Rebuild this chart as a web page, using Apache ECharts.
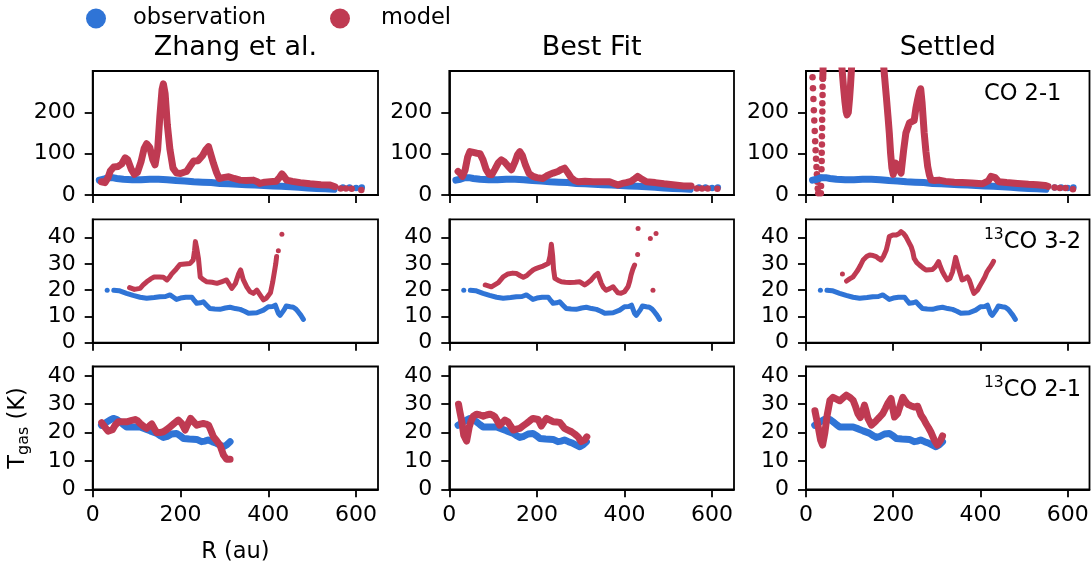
<!DOCTYPE html>
<html>
<head>
<meta charset="utf-8">
<script src="https://cdn.jsdelivr.net/npm/echarts@6/dist/echarts.min.js"></script>
<style>html,body{margin:0;padding:0;background:#fff;}#chart{width:1091px;height:563px;}</style>
</head>
<body>
<div id="chart"></div>
<script>
// ---------- data ----------
const columnTitles = ['Zhang et al.', 'Best Fit', 'Settled'];
const lineNames = ['CO 2-1', '13CO 3-2', '13CO 2-1'];
const xTicks = [0, 200, 400, 600];
const yTicksCO = [0, 100, 200];
const yTicks13 = [0, 10, 20, 30, 40];

// CO 2-1
const obsCO21 = [[15,36],[25,38],[35,42],[45,42],[55,40],[70,38],[90,37],[110,37],[130,38],[150,38],[170,37],[190,35],[210,34],[230,32],[250,31],[270,30],[290,28],[310,27],[330,26],[350,25],[370,24],[390,23],[410,22],[430,21],[450,20],[470,19],[490,17],[510,16],[530,15],[550,14]];
const obsCO21Dots = [[570,18],[585,18],[600,17],[613,18]];
const zhangCO21 = [[20,32],[28,30],[35,42],[40,58],[48,68],[58,69],[66,75],[74,90],[80,85],[88,62],[95,50],[102,55],[110,80],[117,112],[123,124],[130,115],[137,85],[142,73],[148,110],[153,190],[158,255],[161,269],[165,245],[170,170],[176,110],[183,65],[191,53],[200,52],[208,55],[214,57],[222,70],[230,82],[240,83],[250,95],[258,110],[264,117],[270,95],[275,77],[282,55],[288,40],[297,42],[310,44],[322,40],[336,36],[350,35],[366,36],[375,32],[381,28],[392,31],[404,32],[418,33],[426,43],[431,51],[436,45],[442,36],[455,33],[473,30],[495,27],[520,25],[541,24],[552,20]];
const zhangCO21Dots = [[565,16],[577,16],[590,15],[612,12]];
const bestCO21 = [[20,57],[25,52],[30,45],[36,60],[42,92],[47,105],[55,103],[63,101],[70,100],[77,85],[84,62],[91,50],[97,49],[104,62],[112,78],[119,85],[126,80],[134,70],[142,61],[150,80],[156,98],[161,105],[167,95],[174,72],[182,52],[191,45],[200,42],[214,40],[225,48],[237,53],[248,57],[256,62],[263,65],[270,55],[278,42],[286,35],[294,32],[310,33],[328,32],[345,32],[366,32],[376,28],[385,24],[395,28],[404,30],[415,33],[424,40],[430,45],[437,40],[450,32],[470,30],[490,27],[515,24],[535,22],[552,22]];
const bestCO21Dots = [[565,16],[577,16],[590,16],[612,15]];
const settledCO21 = [[38.5,282],[40,340],[80,340],[83,300],[86,262],[89,228],[92,202],[94,194],[97,200],[100,235],[102,265],[104,300],[106,340],[176,340],[179,300],[184,240],[188,190],[191,150],[194,100],[197,65],[200,50],[206,77],[212,65],[218,53],[224,110],[229,150],[237,174],[243,178],[248,180],[252,210],[256,231],[260,250],[263,257],[266,225],[271,150],[275,105],[279,69],[283,48],[287,36],[295,35],[305,36],[320,33],[340,31],[358,30],[380,29],[404,27],[418,34],[424,45],[428,49],[434,42],[442,32],[460,30],[485,28],[510,26],[530,25],[548,23],[555,21]];
const settledCO21Dots = [[15,285],[16,258],[17,232],[18,205],[19,180],[20,155],[21,130],[22,108],[23,88],[24,68],[25,50],[26,32],[27,16],[28,4],[34,4],[34.5,22],[35,42],[35.5,62],[36,82],[36,102],[36.5,122],[36.5,142],[37,162],[37,182],[37.5,202],[37.5,222],[38,242],[38,262],[38.5,282],[570,18],[582,17],[595,17],[612,14]];

// 13CO 3-2
const obs13CO32 = [[48,20],[60,19.8],[77,18.8],[92,18],[108,17.3],[123,16.9],[140,17.2],[153,17.5],[166,17.6],[176,18.2],[184,17.3],[191,16.5],[200,17],[212,17.3],[226,17.3],[232,16],[237,15],[245,15.2],[252,15.6],[260,14.2],[267,13],[278,12.8],[290,12.7],[302,13.2],[313,13.5],[325,13],[336,12.7],[346,12],[355,11.2],[365,11.3],[374,11.4],[389,12.4],[400,13.7],[410,13.8],[416,14.3],[420,12.5],[423,11.2],[427,10.4],[431,10.5],[436,12.5],[441,14],[450,13.7],[457,13.5],[463,12.8],[468,11.8],[474,10.5],[480,8.9]];
const obs13CO32Dots = [[33,20]];
const zhang13CO32 = [[84,21],[95,20.3],[108,20.7],[115,22],[123,23.2],[132,24.3],[140,25],[152,25],[161,24.9],[169,23.9],[175,25],[180,26.2],[190,28],[199,29.8],[210,30],[222,30.2],[229,31.5],[232,35],[234,38.5],[237,36],[241,32],[245,25],[252,24],[260,23.2],[272,23],[283,22.6],[295,23.3],[305,23.9],[312,22],[317,20.7],[325,22.5],[332,26],[337,27.7],[343,24],[351,21.3],[358,19.5],[366,18.8],[374,20],[382,18],[389,16.3],[396,17],[400,17.5],[405,19],[410,23],[414,27],[417,30],[419,32.8]];
const zhang13CO32Dots = [[423,35],[431,41.3]];
const best13CO32 = [[82,22],[96,21.3],[112,22.9],[123,25.1],[134,26.2],[145,26.5],[153,26.4],[162,25.5],[169,24.9],[177,25.6],[184,26.7],[192,27.8],[199,28.3],[207,28.8],[214,29.2],[221,29.8],[226,30.2],[230,33],[233,37.5],[236,33],[238,28],[241,24.5],[248,23.8],[256,23.2],[265,23],[275,22.9],[287,23],[298,23.2],[309,22],[316,22.8],[324,23.9],[332,25.5],[339,26.4],[343,24.5],[347,22.6],[352,21],[358,20],[366,20.6],[374,21.3],[380,20],[385,19],[392,18.8],[400,19.4],[404,20],[408,21.3],[412,23.5],[415,25.8],[419,28],[423,29.6]];
const best13CO32Dots = [[430,33.6],[431,43.5],[459,39.7],[465,20],[472,41.6]];
const settled13CO32 = [[93,23.5],[100,24.3],[108,25.1],[114,26.5],[119,27.7],[125,29.5],[131,31.5],[139,32.8],[146,33.4],[154,33.2],[161,32.8],[167,32],[172,31.5],[178,33],[184,35.3],[188,38],[191,40.4],[199,41],[207,41],[213,41.5],[218,42.3],[224,41.5],[229,40.4],[235,38.5],[241,36.6],[245,34.5],[248,32.1],[254,30.5],[260,29.6],[268,28.5],[275,27.7],[283,27.8],[290,27.9],[297,29],[304,30.9],[308,29],[313,27],[318,25.5],[324,23.9],[330,24.5],[336,27],[340,30],[343,32.5],[347,30],[351,27.7],[355,25.5],[358,23.9],[364,24.3],[370,25.1],[374,24],[377,22.6],[381,20.5],[385,18.8],[389,19.2],[393,20],[398,21.5],[404,23.2],[410,25],[415,27],[419,28],[423,29],[427,30],[430,31]];
const settled13CO32Dots = [[83.5,26.2]];

// 13CO 2-1
const obs13CO21 = [[20,22.6],[30,23.5],[40,24.5],[47,25],[55,24.6],[62,23.8],[70,22.8],[77,22],[90,22],[108,22],[120,21.3],[131,20.6],[145,19.8],[155,18.8],[161,18.3],[170,18.7],[180,19.5],[191,19.7],[200,18.8],[207,17.9],[220,17.7],[237,17.6],[248,16.8],[256,17],[263,17.4],[272,16.8],[282,16.2],[290,15.6],[298,15],[305,15.6],[313,16.8]];
const obs13CO21Dots = [];
const zhang13CO21 = [[20.5,23.5],[25,22.5],[30,21.5],[35,20.5],[39.5,20],[45,21],[51,22.6],[58.5,23.8],[68,23.8],[77.5,23.8],[87,24.2],[96.5,24.6],[102,24.2],[108,23.2],[115,22.3],[123,21.5],[129,22.3],[134.5,23],[140,21.5],[146,20],[153,20],[161,20.3],[168,21],[176,22],[186,23.3],[195,24.4],[203,23.2],[210.5,20.9],[216,22.8],[223,25],[230,23.8],[237,22.6],[245,23],[252,23.2],[258,23],[264,22.6],[270,20.5],[275,18.5],[283,17],[290,15.6],[294,13.8],[298,12.1],[305,10.6],[313,10.6]];
const best13CO21 = [[21,30],[24,27.5],[28,24.4],[33,19.1],[39.5,17],[42,19],[45.5,22],[50,24.2],[55,25.8],[62,26.5],[70,26.2],[77.5,25.8],[85,26.2],[92.5,26.5],[98,26.2],[104,25.6],[110,24],[115,22.6],[121,23.5],[127,24.4],[134,23.8],[140,22.3],[146,20.9],[153,21.2],[161,21.5],[168,22.3],[176,23.2],[184,24.2],[191,25],[197,24.8],[203,24.6],[210,22.3],[216,23.7],[222,25],[230,24.4],[237,23.8],[245,23.7],[252,23.6],[258,22.5],[263,21.5],[271,20.9],[279,20.3],[287,19.4],[294,18.5],[301,16.8],[309,17.4],[314,18.5]];
const settled13CO21 = [[20.5,27.7],[24,25],[28,22],[33.4,17.4],[38,15.6],[43,19.7],[48.6,26.2],[52,29],[55,31.4],[62,32.4],[70,31.8],[77.5,31.2],[85,32.2],[92.6,33.2],[100,32.5],[108,31.4],[114,29],[119,26.7],[124.5,25.3],[130,27.5],[134,29.7],[138,27.5],[142,25],[150,22.6],[155,23.3],[161,24.2],[168,25.3],[176,26.7],[182,28.5],[187.5,30.3],[195,32],[199,28.5],[203,25.5],[210,26.7],[216,29.5],[222,32.4],[227,31.2],[233,30],[240,29.5],[248,29],[256,29.3],[260,27.7],[263.5,26.2],[270,24.7],[275,23.2],[281,21.7],[286,20.3],[294,17.4],[301,15.6],[305,16.5],[309,17.4],[313,18.8]];

// ---------- layout & style ----------
const FONT = 'DejaVu Sans';
const BLUE = '#2f74d6';
const RED = '#bf3a52';
const colLeft = [92.7, 449.3, 806];
const colWidth = [285.3, 284.7, 283.5];
const rowTop = [71, 219.3, 366.5];
const rowHeight = [124, 123.4, 122.8];
const yMax = [300, 47, 43.3];
const lineW = [7, 5, 7];
const dotSize = [6.5, 5, 6.5];

const rows = [
  { obs: obsCO21, obsDots: obsCO21Dots, ticks: yTicksCO,
    models: [[zhangCO21, zhangCO21Dots], [bestCO21, bestCO21Dots], [settledCO21, settledCO21Dots]] },
  { obs: obs13CO32, obsDots: obs13CO32Dots, ticks: yTicks13,
    models: [[zhang13CO32, zhang13CO32Dots], [best13CO32, best13CO32Dots], [settled13CO32, settled13CO32Dots]] },
  { obs: obs13CO21, obsDots: obs13CO21Dots, ticks: yTicks13,
    models: [[zhang13CO21, []], [best13CO21, []], [settled13CO21, []]] }
];

const grids = [], xAxes = [], yAxes = [], series = [];
const axisLineStyle = { color: '#000', width: 1.8 };
for (let r = 0; r < 3; r++) {
  for (let c = 0; c < 3; c++) {
    const gi = r * 3 + c;
    grids.push({ left: colLeft[c], top: rowTop[r], width: colWidth[c], height: rowHeight[r],
      show: true, borderColor: '#000', borderWidth: 1.8, containLabel: false, outerBoundsMode: 'none' });
    xAxes.push({ gridIndex: gi, type: 'value', min: 0, max: 650,
      axisLine: { show: true, onZero: false, lineStyle: axisLineStyle },
      axisTick: { show: true, inside: false, length: 8, customValues: xTicks, lineStyle: axisLineStyle },
      axisLabel: { show: r === 2, customValues: xTicks, margin: 15, color: '#000', fontSize: 22, fontFamily: FONT },
      splitLine: { show: false } });
    yAxes.push({ gridIndex: gi, type: 'value', min: 0, max: yMax[r],
      axisLine: { show: true, onZero: false, lineStyle: axisLineStyle },
      axisTick: { show: true, inside: false, length: 8, customValues: rows[r].ticks, lineStyle: axisLineStyle },
      axisLabel: { show: true, customValues: rows[r].ticks, margin: 17, color: '#000', fontSize: 22, fontFamily: FONT },
      splitLine: { show: false } });
    const mk = (name, type, data, color) => {
      const s = { name, type, data, xAxisIndex: gi, yAxisIndex: gi, animation: false, silent: true, clip: true };
      if (type === 'line') {
        Object.assign(s, { showSymbol: false, symbol: 'none',
          lineStyle: { color, width: lineW[r], cap: 'round', join: 'round', opacity: 1 }, itemStyle: { color, opacity: 1 } });
      } else {
        Object.assign(s, { symbol: 'circle', symbolSize: dotSize[r], itemStyle: { color, opacity: 1 } });
      }
      return s;
    };
    series.push(mk('observation', 'line', rows[r].obs, BLUE));
    if (rows[r].obsDots.length) series.push(mk('observation', 'scatter', rows[r].obsDots, BLUE));
    series.push(mk('model', 'line', rows[r].models[c][0], RED));
    if (rows[r].models[c][1].length) series.push(mk('model', 'scatter', rows[r].models[c][1], RED));
  }
}

const graphics = [];
for (let c = 0; c < 3; c++) {
  graphics.push({ type: 'text', x: colLeft[c] + colWidth[c] / 2, y: 48,
    style: { text: columnTitles[c], align: 'center', verticalAlign: 'middle', fontSize: 27, fontFamily: FONT, fill: '#000' } });
}
const labelRich = {
  t: { fontSize: 22.5, fontFamily: FONT, fill: '#000', lineHeight: 27, verticalAlign: 'bottom' },
  s: { fontSize: 15.5, fontFamily: FONT, fill: '#000', lineHeight: 16, verticalAlign: 'top' }
};
const labelTops = [78.5, 227, 375];
for (let r = 0; r < 3; r++) {
  const nm = lineNames[r];
  const txt = nm.startsWith('13') ? '{s|13}{t|' + nm.slice(2) + '}' : '{t|' + nm + '}';
  graphics.push({ type: 'text', x: 984, y: labelTops[r],
    style: { text: txt, align: 'left', verticalAlign: 'top', rich: labelRich } });
}
graphics.push({ type: 'text', x: colLeft[0] + colWidth[0] / 2, y: 552,
  style: { text: 'R (au)', align: 'center', verticalAlign: 'middle', fontSize: 22.5, fontFamily: FONT, fill: '#000' } });
graphics.push({ type: 'text', x: 19, y: 428, rotation: Math.PI / 2,
  style: { text: '{t|T}{s|gas}{t| (K)}', align: 'center', verticalAlign: 'middle',
    rich: {
      t: { fontSize: 22.5, fontFamily: FONT, fill: '#000', lineHeight: 24, verticalAlign: 'top' },
      s: { fontSize: 16, fontFamily: FONT, fill: '#000', lineHeight: 16, padding: [9, 0, 0, 0], verticalAlign: 'top' }
    } } });

const legendBase = { top: 2, icon: 'circle', itemWidth: 20, itemHeight: 20, itemStyle: { opacity: 1 } };
const chart = echarts.init(document.getElementById('chart'), null, { renderer: 'canvas', width: 1091, height: 563 });
chart.setOption({
  backgroundColor: '#fff',
  animation: false,
  legend: [
    Object.assign({ data: ['observation'], left: 81,
      textStyle: { fontSize: 22.5, fontFamily: FONT, color: '#000', padding: [0, 0, 0, 22] } }, legendBase),
    Object.assign({ data: ['model'], left: 325,
      textStyle: { fontSize: 22.5, fontFamily: FONT, color: '#000', padding: [0, 0, 0, 26] } }, legendBase)
  ],
  grid: grids, xAxis: xAxes, yAxis: yAxes, series, graphic: graphics
});
</script>
</body>
</html>
